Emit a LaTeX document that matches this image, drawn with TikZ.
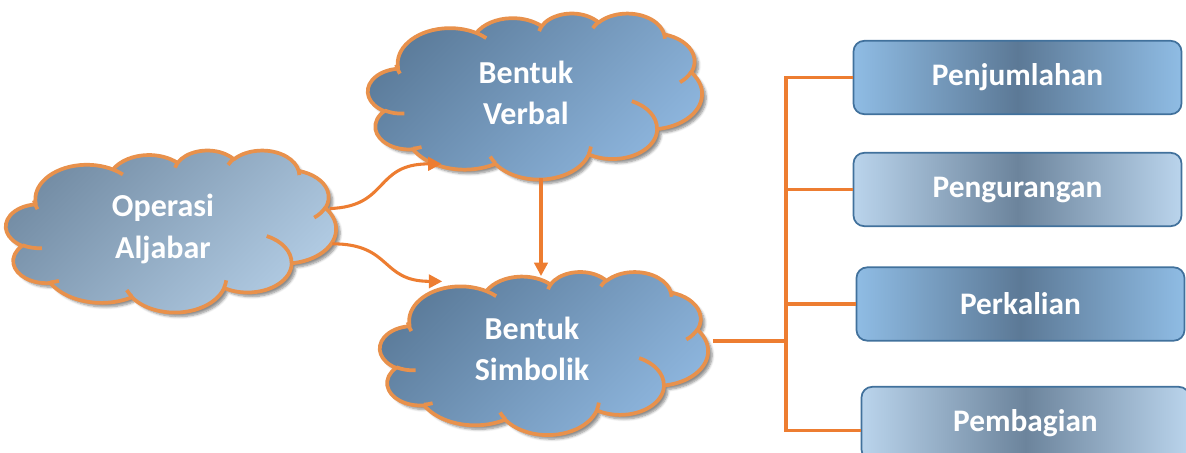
\documentclass[tikz,border=0pt]{standalone}
\usepackage{fontspec}
\setmainfont{Carlito}
\usetikzlibrary{arrows.meta, calc, positioning, shapes.geometric, shadows.blur}
\definecolor{myorange1}{RGB}{237, 125, 49}
\definecolor{myorange2}{RGB}{232, 145, 76}
\definecolor{myborderblue1}{RGB}{65, 113, 156}
\definecolor{mycloudgray1}{RGB}{116, 141, 165}
\definecolor{mycloudgray2}{RGB}{178, 204, 228}
\definecolor{myclouddark1}{RGB}{92, 124, 155}
\definecolor{mycloudlight1}{RGB}{142, 182, 222}
\definecolor{myboxdark1}{RGB}{92, 121, 150}
\definecolor{myboxlight1}{RGB}{143, 188, 228}
\definecolor{myboxdark2}{RGB}{108, 132, 156}
\definecolor{myboxlight2}{RGB}{186, 212, 236}

% one puff of the cloud outline (radii, start angle and sweep as seen from the centre)
\newcommand{\puffprep}[4]{%
  \pgfmathsetmacro{\puffa}{atan2(#1*sin(#3), #2*cos(#3))}%
  \pgfmathsetmacro{\puffb}{atan2(#1*sin(#3+#4), #2*cos(#3+#4))}%
  \pgfmathsetmacro{\puffd}{\puffb-\puffa}%
  \pgfmathsetmacro{\puffd}{\puffd<0 ? \puffd+360 : \puffd}%
  \xdef\puffstart{\puffa}\xdef\puffdelta{\puffd}}
\newcommand{\puff}[4]{\pgfextra{\puffprep{#1}{#2}{#3}{#4}} arc[start angle=\puffstart, delta angle=\puffdelta, x radius=#1, y radius=#2]}

% cloud: centre, width, height (px), top colour, bottom colour
\newcommand{\drawcloud}[5]{%
  \pgfmathsetmacro{\cloudsx}{#2*0.75/432}%
  \pgfmathsetmacro{\cloudsy}{#3*0.75/432}%
  \begin{scope}[shift={#1}, x=\cloudsx pt, y=-\cloudsy pt, shift={(-216,-216)}]
    \path [cloudline, top color=#4, bottom color=#5, shading angle=45, blur shadow={shadow xshift=3pt, shadow yshift=-3pt, shadow opacity=45, shadow blur steps=6}]
      (39.00,143.70) \puff{67.53}{91.90}{-190.4875}{123.7805} \puff{53.33}{72.67}{-144.1024}{89.9452}
      \puff{43.65}{59.45}{-145.8079}{99.7230} \puff{48.57}{65.95}{-130.9861}{117.2417}
      \puff{53.33}{72.73}{-78.7089}{109.0269} \puff{67.75}{92.20}{-46.2673}{130.2690}
      \puff{57.85}{78.67}{0.6250}{114.0333} \puff{67.52}{92.15}{22.4516}{115.1726}
      \puff{77.20}{105.43}{66.2426}{75.7110} \puff{43.60}{59.18}{-274.9421}{146.7356}
      \puff{43.45}{59.45}{-246.8285}{152.5189} -- cycle;
    \path [cloudline]
      (46.93,261.77) \puff{43.45}{59.45}{86.7420}{26.4295}
      (69.28,348.99) \puff{43.60}{59.18}{73.6105}{11.4475}
      (164.78,390.90) \puff{67.52}{92.15}{137.6242}{14.0811}
      (288.27,347.51) \puff{67.52}{92.15}{6.4533}{15.9984}
      (341.29,229.54) \puff{57.85}{78.67}{-70.2924}{70.9174}
      (417.98,153.54) \puff{53.33}{72.73}{30.3180}{27.7515}
      (383.24,54.26) \puff{48.57}{65.95}{-13.7443}{14.8589}
      (290.78,39.52) \puff{48.57}{65.95}{-149.1815}{18.1954}
      (221.41,47.20) \puff{43.65}{59.45}{-163.4943}{17.6864}
      (140.00,51.92) \puff{67.53}{91.90}{-66.7070}{12.3194}
      (41.27,157.89) \puff{67.53}{91.90}{150}{19.5047};
  \end{scope}}

\tikzset{
  cloudline/.style={draw=myorange2, line width=2.8pt, line join=round},
  cloudtext/.style={ellipse, inner sep=0pt, text=white, align=center, font=\bfseries\fontsize{24}{31}\selectfont},
  opbox/.style={rectangle, rounded corners=8pt, draw=myborderblue1, line width=1.3pt, text=white, font=\bfseries\fontsize{23.5}{28}\selectfont, minimum width=246pt, minimum height=55pt},
  link/.style={myorange1, line width=2.3pt},
  linkarrow/.style={link, -{Triangle[length=10pt, width=10pt]}}
}

\begin{document}
\begin{tikzpicture}[x=0.75pt, y=-0.75pt]
\clip (0,0) rectangle (1186,453);

% --- Clouds ---
\drawcloud{(171,231)}{330}{162}{mycloudgray1}{mycloudgray2}
\drawcloud{(535,96)}{334}{166}{myclouddark1}{mycloudlight1}
\drawcloud{(544,353)}{328}{163}{myclouddark1}{mycloudlight1}
\node at (163,229) [cloudtext, minimum width=258pt, minimum height=120pt] (aljabar) {Operasi\\Aljabar};
\node at (526,93) [cloudtext, minimum width=249pt, minimum height=123pt] (verbal) {Bentuk\\Verbal};
\node at (532,349) [cloudtext, minimum width=245pt, minimum height=121pt] (simbolik) {Bentuk\\Simbolik};

% --- Operations ---
\node at (1017.5,77.5) [opbox, left color=myboxlight1, right color=myboxlight1, middle color=myboxdark1] (tambah) {Penjumlahan};
\node at (1017.5,189.5) [opbox, left color=myboxlight2, right color=myboxlight2, middle color=myboxdark2] (kurang) {Pengurangan};
\node at (1020.5,304) [opbox, left color=myboxlight1, right color=myboxlight1, middle color=myboxdark1] (kali) {Perkalian};
\node at (1025.5,423.5) [opbox, left color=myboxlight2, right color=myboxlight2, middle color=myboxdark2] (bagi) {Pembagian};

% --- Arrows ---
\draw [linkarrow] (aljabar.7) .. controls +(60,-2) and +(-68,0) .. (verbal.220);
\draw [linkarrow] (aljabar.-5) .. controls +(60,0) and +(-62,0) .. (simbolik.143);
\draw [linkarrow] ($(verbal.south)+(15,3)$) -- ($(simbolik.north)+(9,8)$);

% --- Tree ---
\coordinate (split) at (786,341);
\draw [link] ([xshift=13pt]simbolik.east |- split) -- (split);
\draw [link] (tambah.west) -- (tambah.west -| split) -- ([yshift=-5pt]bagi.west -| split) -- ([yshift=-5pt]bagi.west);
\draw [link] (kurang.west -| split) -- (kurang.west);
\draw [link] (kali.west -| split) -- (kali.west);
\end{tikzpicture}
\end{document}
